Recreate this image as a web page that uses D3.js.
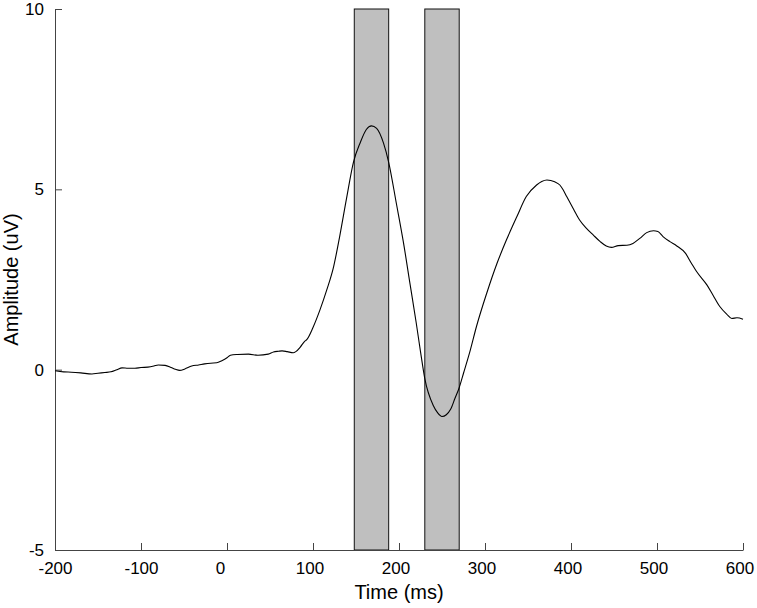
<!DOCTYPE html>
<html>
<head>
<meta charset="utf-8">
<script src="https://cdn.jsdelivr.net/npm/d3@7"></script>
<style>
  body { margin: 0; background: #fff; }
  text { font-family: "Liberation Sans", Arial, Helvetica, sans-serif; fill: #000; }
</style>
</head>
<body>
<div id="erp_plot"></div>
<script>
// waveform (ms, uV)
var times = [-200, -190, -181, -170, -157, -150, -142, -135, -128, -122, -115, -107, -100, -92, -85, -80, -72, -65, -60, -55, -49, -41, -33, -26, -19, -12, -6, 0, 4, 12, 25, 36, 48, 54, 60, 64, 70, 77, 80, 85, 90, 93, 100, 108, 116, 124, 131, 139, 147, 155, 162, 168, 174, 182, 188, 197, 205, 213, 220, 225, 230, 240, 245, 250, 255, 260, 265, 270, 275, 283, 290, 302, 314, 325, 337, 348, 360, 366, 372, 381, 387, 391, 395, 403, 410, 418, 426, 434, 441, 447, 455, 465, 472, 480, 488, 496, 501, 507, 515, 523, 533, 540, 546, 558, 565, 573, 581, 587, 593, 600];
var amplitudes = [-0.03, -0.06, -0.07, -0.09, -0.12, -0.10, -0.08, -0.06, 0.00, 0.05, 0.04, 0.04, 0.06, 0.07, 0.10, 0.13, 0.12, 0.06, 0.01, -0.02, 0.02, 0.10, 0.13, 0.16, 0.18, 0.19, 0.25, 0.33, 0.40, 0.42, 0.43, 0.40, 0.43, 0.49, 0.51, 0.52, 0.50, 0.47, 0.50, 0.62, 0.78, 0.84, 1.17, 1.65, 2.21, 2.86, 3.69, 4.75, 5.75, 6.30, 6.66, 6.76, 6.69, 6.28, 5.75, 4.60, 3.55, 2.35, 1.30, 0.50, -0.25, -1.00, -1.20, -1.30, -1.25, -1.10, -0.80, -0.50, -0.10, 0.55, 1.19, 2.12, 2.95, 3.60, 4.24, 4.80, 5.12, 5.22, 5.26, 5.21, 5.12, 4.98, 4.80, 4.45, 4.15, 3.92, 3.73, 3.55, 3.43, 3.39, 3.44, 3.45, 3.50, 3.64, 3.80, 3.85, 3.83, 3.69, 3.55, 3.43, 3.23, 2.95, 2.72, 2.35, 2.07, 1.75, 1.54, 1.42, 1.44, 1.40];

// shaded analysis windows (ms)
var windowStarts = [148, 230];
var windowEnds = [188, 270];

var xTicks = [-200, -100, 0, 100, 200, 300, 400, 500, 600];
var yTicks = [-5, 0, 5, 10];

var margin = {top: 9, right: 14, bottom: 58, left: 55},
    width = 757 - margin.left - margin.right,
    height = 608 - margin.top - margin.bottom;

var svg = d3.select("#erp_plot")
  .append("svg")
    .attr("width", width + margin.left + margin.right)
    .attr("height", height + margin.top + margin.bottom)
  .append("g")
    .attr("transform", "translate(" + margin.left + "," + margin.top + ")");

var x = d3.scaleLinear().domain([-200, 600]).range([0, width]);
var y = d3.scaleLinear().domain([-5, 10]).range([height, 0]);

var data = times.map(function(t, i) { return {t: t, v: amplitudes[i]}; });
var windows = windowStarts.map(function(s, i) { return {s: s, e: windowEnds[i]}; });

// grey boxes
svg.selectAll("rect.win")
  .data(windows)
  .enter()
  .append("rect")
    .attr("class", "win")
    .attr("x", function(d) { return x(d.s); })
    .attr("y", y(10))
    .attr("width", function(d) { return x(d.e) - x(d.s); })
    .attr("height", y(-5) - y(10))
    .style("fill", "#bfbfbf")
    .style("stroke", "#111")
    .style("stroke-width", 1);

// plain hyphen for negatives, like the original
var fmt = function(d) { return String(d); };

// X axis, ticks point inward
var xAxis = svg.append("g")
    .attr("transform", "translate(0," + height + ")")
    .call(d3.axisBottom(x).tickValues(xTicks).tickFormat(fmt).tickSizeInner(-7).tickSizeOuter(0).tickPadding(12));
xAxis.select(".domain").attr("stroke", "#444");
xAxis.selectAll(".tick line").attr("stroke", "#444");
xAxis.selectAll(".tick text")
    .style("font-size", "17px")
    .attr("dx", function(d) { return d == 0 ? -7 : (d > 0 ? -3.5 : 0); });

// Y axis
var yAxis = svg.append("g")
    .call(d3.axisLeft(y).tickValues(yTicks).tickFormat(fmt).tickSizeInner(-7).tickSizeOuter(0).tickPadding(11));
yAxis.select(".domain").attr("stroke", "#444");
yAxis.selectAll(".tick line").attr("stroke", "#444");
yAxis.selectAll(".tick text").style("font-size", "17px");

svg.append("text")
    .attr("text-anchor", "middle")
    .attr("x", width / 2)
    .attr("y", height + 49)
    .style("font-size", "20px")
    .text("Time (ms)");

svg.append("text")
    .attr("text-anchor", "middle")
    .attr("transform", "translate(" + (-37) + "," + (height / 2) + ") rotate(-90)")
    .style("font-size", "20px")
    .text("Amplitude (uV)");

var valueline = d3.line()
    .curve(d3.curveMonotoneX)
    .x(function(d) { return x(d.t); })
    .y(function(d) { return y(d.v); });

svg.append("path")
    .datum(data)
    .attr("d", valueline)
    .style("fill", "none")
    .style("stroke", "#000")
    .style("stroke-width", 1.1);
</script>
</body>
</html>
